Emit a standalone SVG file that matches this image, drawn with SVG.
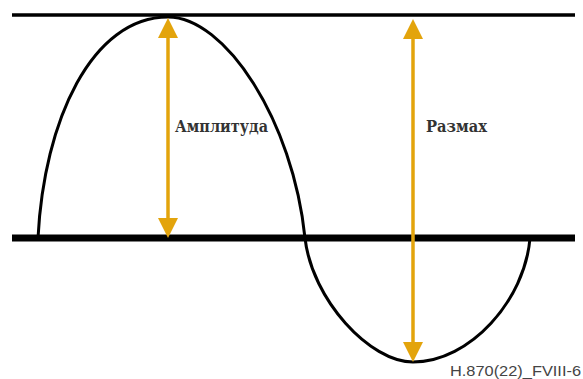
<svg xmlns="http://www.w3.org/2000/svg" width="583" height="379" viewBox="0 0 583 379">
<style>
.line{stroke:#000;fill:none}
.wave{stroke:#000;stroke-width:3;fill:none}
.arr{stroke:#E3A40C;stroke-width:3.5;fill:none}
.head{fill:#E3A40C}
.lbl{font-family:'DejaVu Serif',serif;font-weight:bold;font-size:16px;fill:#333}
.code{font-family:'Liberation Sans',Arial,sans-serif;font-size:15px;fill:#444}
</style>
<rect width="583" height="379" fill="#fff"/>
<g id="axes">
<line class="line" x1="12" y1="15" x2="575" y2="15" stroke-width="3.5"/>
<line class="line" x1="12" y1="238" x2="575" y2="238" stroke-width="7"/>
</g>
<g id="wave">
<path class="wave" d="M38,238 C44,120 92,17 168,17 C225,17 293,120 305,238 C312,300 370,362 413,362 C470,362 525,300 530,238"/>
</g>
<g id="connectors">
<line class="arr" x1="168" y1="36" x2="168" y2="219"/>
<polygon class="head" points="168,18 158,38 178,38"/>
<polygon class="head" points="168,238 158,218 178,218"/>
<line class="arr" x1="413" y1="37" x2="413" y2="343"/>
<polygon class="head" points="413,19 403,39 423,39"/>
<polygon class="head" points="413,362 403,342 423,342"/>
</g>
<g id="amplitude">
<text class="lbl" x="175" y="132" textLength="93" lengthAdjust="spacingAndGlyphs">Амплитуда</text>
</g>
<g id="razmah">
<text class="lbl" x="426" y="132" textLength="61" lengthAdjust="spacingAndGlyphs">Размах</text>
</g>
<g id="code">
<text class="code" x="450" y="376" textLength="131" lengthAdjust="spacingAndGlyphs">H.870(22)_FVIII-6</text>
</g>
</svg>
